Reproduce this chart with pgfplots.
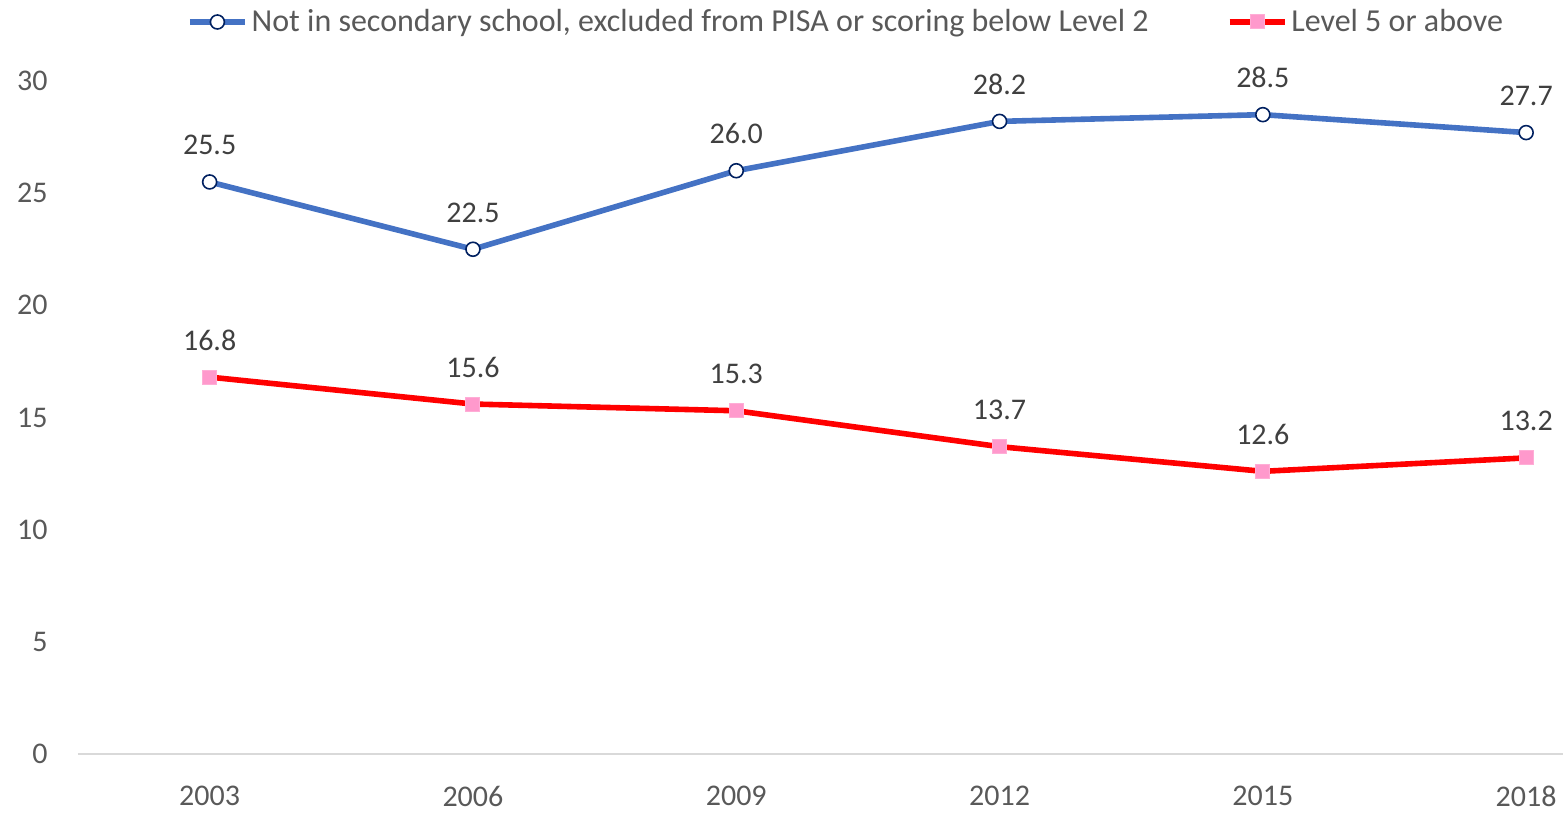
\documentclass[border=0pt]{standalone}
\usepackage{pgfplots}
\pgfplotsset{compat=1.18}
\usepackage{fontspec}
\setmainfont{Carlito}
\definecolor{blueline}{HTML}{4472C4}
\definecolor{navy}{HTML}{002060}
\definecolor{pinkm}{HTML}{FF99CC}
\definecolor{tickgray}{HTML}{595959}
\definecolor{labgray}{HTML}{404040}
\definecolor{axgray}{HTML}{D9D9D9}
\begin{document}
\begin{tikzpicture}
\begin{axis}[
  at={(0pt,0pt)}, anchor=south west,
  scale only axis,
  width=742.5pt, height=336.5pt,
  xmin=-0.5, xmax=5.14,
  ymin=0, ymax=30,
  axis x line*=bottom,
  axis y line*=left,
  x axis line style={draw=axgray, line width=1pt, -},
  y axis line style={draw=none},
  major tick length=0pt,
  xtick={0,1,2,3,4,5},
  xticklabels={2003,2006,2009,2012,2015,2018},
  ytick={0,5,10,15,20,25,30},
  /pgf/number format/assume math mode=true,
  tick label style={font=\fontsize{15}{18}\selectfont, text=tickgray},
  yticklabel style={inner sep=0pt, anchor=east, xshift=-15pt},
  xticklabel style={inner sep=0pt, anchor=north, yshift=-16pt},
  clip=false,
  nodes near coords,
  nodes near coords style={
    font=\fontsize{15}{18}\selectfont, text=labgray,
    anchor=base, yshift=13.5pt,
    /pgf/number format/.cd, fixed, precision=1, fixed zerofill, assume math mode=true},
  legend columns=2,
  legend style={
    at={(384.5pt,366pt)}, anchor=center,
    draw=none, fill=none,
    font=\fontsize{16}{19}\selectfont, text=tickgray,
    /tikz/every even column/.append style={column sep=37pt},
    /tikz/every odd column/.append style={inner xsep=2pt},
    inner sep=0pt,
  },
  legend image code/.code={
    \draw[mark repeat=2, mark phase=2] plot coordinates {(0pt,0pt) (13.75pt,0pt) (27.5pt,0pt)};
  },
]
\addplot[color=blueline, line width=2.8pt, mark=*, mark size=3.5pt,
  mark options={fill=white, draw=navy, line width=0.8pt}]
  coordinates {(0,25.5) (1,22.5) (2,26.0) (3,28.2) (4,28.5) (5,27.7)};
\addlegendentry{Not in secondary school, excluded from PISA or scoring below Level 2}
\addplot[color=red, line width=2.8pt, mark=square*, mark size=3.5pt,
  mark options={fill=pinkm, draw=pinkm!80!white, line width=0.5pt}]
  coordinates {(0,16.8) (1,15.6) (2,15.3) (3,13.7) (4,12.6) (5,13.2)};
\addlegendentry{Level 5 or above}
\end{axis}
\pgfresetboundingbox
\path (-39pt,-30pt) rectangle (742.5pt,377pt);
\end{tikzpicture}
\end{document}
